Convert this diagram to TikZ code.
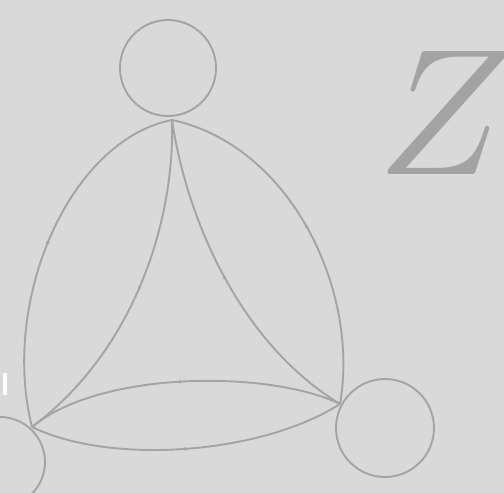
\documentclass[tikz,border=0pt]{standalone}
\usetikzlibrary{decorations.markings,arrows.meta}
\begin{document}
\begin{tikzpicture}[x=1pt,y=-1pt,
  edge/.style={draw=linegray,line width=1.9pt,
    postaction={decorate},
    decoration={markings,mark=at position 0.5 with {\arrow{Stealth[length=4pt,width=4pt]}}}},
  loopline/.style={draw=linegray,line width=1.9pt},
  vert/.style={inner sep=0pt,minimum size=0pt}]
\definecolor{bg}{HTML}{D9D9D9}
\definecolor{linegray}{HTML}{A4A4A4}
\definecolor{zgray}{HTML}{A3A3A3}
\fill[bg] (0,0) rectangle (504,493);
\useasboundingbox (0,0) rectangle (504,493);
\clip (0,0) rectangle (504,493);
\fill[white] (3,373) rectangle (7,395);
\coordinate (T) at (172,120);
\coordinate (L) at (32,427);
\coordinate (R) at (340,404);
\node[loopline,circle,minimum size=96pt,inner sep=0pt] (lt) at (168,68) {};
\node[loopline,circle,minimum size=98pt,inner sep=0pt] (lr) at (385,428) {};
\node[loopline,circle,minimum size=90pt,inner sep=0pt] (ll) at (0,462) {};
\path[edge] (T) .. controls (70,140) and (0,300) .. (L);
\path[edge] (T) .. controls (175,220) and (135,350) .. (L);
\path[edge] (T) .. controls (290,145) and (360,290) .. (R);
\path[edge] (T) .. controls (185,210) and (235,340) .. (R);
\path[edge] (L) .. controls (100,370) and (270,370) .. (R);
\path[edge] (L) .. controls (110,465) and (260,455) .. (R);
\node[text=zgray,scale=18] (z) at (445,113) {$Z$};
\end{tikzpicture}
\end{document}
